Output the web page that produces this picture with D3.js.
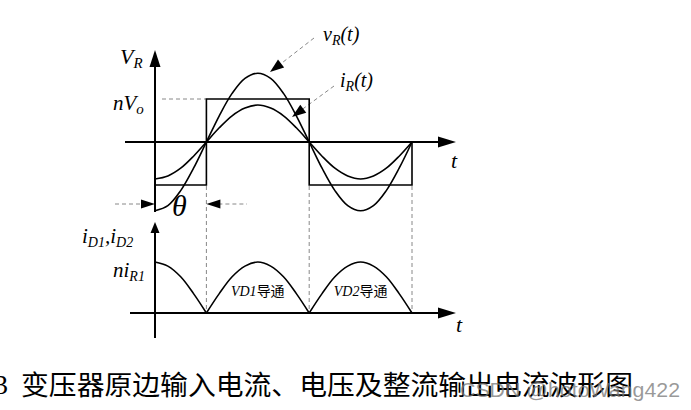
<!DOCTYPE html>
<html>
<head>
<meta charset="utf-8">
<script src="https://cdn.jsdelivr.net/npm/d3@7"></script>
<style>
  body { margin: 0; background: #fff; }
  svg { display: block; }
</style>
</head>
<body>
<div id="chart"></div>
<script>
// time in quarter periods (0 = vertical axis)
var tSteps = [0, 0.25, 0.5, 0.75, 1, 1.25, 1.5, 1.75, 2, 2.25, 2.5, 2.75, 3,
              3.25, 3.5, 3.75, 4, 4.25, 4.5, 4.75, 5];
// primary voltage vR(t), units of nVo
var vR = [-1.6, -1.48, -1.13, -0.61, 0, 0.61, 1.13, 1.48, 1.6, 1.48, 1.13, 0.61, 0,
          -0.61, -1.13, -1.48, -1.6, -1.48, -1.13, -0.61, 0];
// primary current iR(t)
var iR = [-0.86, -0.79, -0.61, -0.33, 0, 0.33, 0.61, 0.79, 0.86, 0.79, 0.61, 0.33, 0,
          -0.33, -0.61, -0.79, -0.86, -0.79, -0.61, -0.33, 0];
// rectified diode current iD1,iD2, units of niR1
var iD = [1, 0.92, 0.71, 0.38, 0, 0.38, 0.71, 0.92, 1, 0.92, 0.71, 0.38, 0,
          0.38, 0.71, 0.92, 1, 0.92, 0.71, 0.38, 0];
// square wave corners
var squareT = [0, 1, 3, 5];
var squareV = [-1, 1, -1, 0];
// diode conduction intervals
var conductT = [2, 4];
var conductLabels = ["VD1", "VD2"];
var conductSuffix = "导通";
var caption = "变压器原边输入电流、电压及整流输出电流波形图";
var watermark = "CSDN @hotoWang422";

var W = 691, H = 410;
var svg = d3.select("#chart").append("svg")
  .attr("width", W).attr("height", H);

var x = d3.scaleLinear().domain([0, 5]).range([155, 412]);
var yTop = d3.scaleLinear().domain([0, 1]).range([142, 99]);
var yBot = d3.scaleLinear().domain([0, 1]).range([313, 262]);

var serif = "'Liberation Serif', 'DejaVu Serif', serif";
var cjk = "'Noto Sans CJK SC', sans-serif";

// helpers
function arrow(g, tipX, tipY, angle, len, half) {
  // angle: direction the arrow points, radians
  var bx = tipX - len * Math.cos(angle), by = tipY - len * Math.sin(angle);
  var px = -Math.sin(angle) * half, py = Math.cos(angle) * half;
  g.append("path")
    .attr("d", "M" + tipX + "," + tipY + "L" + (bx + px) + "," + (by + py) +
      "L" + (bx - px) + "," + (by - py) + "Z")
    .attr("fill", "#000");
}

function label(g, px, py, parts, size, subSize) {
  var t = g.append("text")
    .attr("x", px).attr("y", py)
    .attr("font-family", serif)
    .attr("font-style", "italic")
    .attr("font-size", size);
  var sub = false;
  parts.forEach(function(p) {
    var ts = t.append("tspan").text(p.t);
    if (p.sub && !sub) { ts.attr("dy", 4).attr("font-size", subSize); sub = true; }
    else if (p.sub) { ts.attr("font-size", subSize); }
    else if (!p.sub && sub) { ts.attr("dy", -4); sub = false; }
    if (p.cjk) ts.attr("font-family", cjk).attr("font-style", "normal").attr("font-size", p.size);
  });
  return t;
}

var pts = tSteps.map(function(t, i) { return {t: t, v: vR[i], i: iR[i], d: iD[i]}; });

var g = svg.append("g");

// ---- dashed guides
var guides = g.append("g")
  .attr("stroke", "#888")
  .attr("stroke-width", 1)
  .attr("stroke-dasharray", "4,3")
  .attr("fill", "none");
[1, 3, 5].forEach(function(t) {
  guides.append("line")
    .attr("x1", x(t)).attr("x2", x(t))
    .attr("y1", yTop(-1) + 1).attr("y2", yBot(0));
});
guides.append("line")
  .attr("x1", 162).attr("x2", x(1))
  .attr("y1", yTop(1)).attr("y2", yTop(1));
// theta dimension
guides.append("line").attr("x1", 115).attr("x2", x(0) - 12)
  .attr("y1", 204).attr("y2", 204);
guides.append("line").attr("x1", x(1) + 12).attr("x2", 247)
  .attr("y1", 204).attr("y2", 204);
// leader lines
guides.append("line").attr("x1", 314).attr("y1", 38).attr("x2", 278).attr("y2", 66);
guides.append("line").attr("x1", 334).attr("y1", 86).attr("x2", 300).attr("y2", 111);

arrow(g, x(0), 204, 0, 14, 4.5);
arrow(g, x(1), 204, Math.PI, 14, 4.5);
arrow(g, 270, 72, Math.atan2(72 - 38, 270 - 314), 14, 5);
arrow(g, 292, 117, Math.atan2(117 - 86, 292 - 334), 14, 5);

// ---- axes
var axes = g.append("g").attr("stroke", "#000").attr("stroke-width", 2);
axes.append("line").attr("x1", x(0)).attr("x2", x(0)).attr("y1", 62).attr("y2", 212);
axes.append("line").attr("x1", 125).attr("x2", 442).attr("y1", yTop(0)).attr("y2", yTop(0));
axes.append("line").attr("x1", x(0)).attr("x2", x(0)).attr("y1", 230).attr("y2", 338);
axes.append("line").attr("x1", 130).attr("x2", 442).attr("y1", yBot(0)).attr("y2", yBot(0));
arrow(g, x(0), 50, -Math.PI / 2, 17, 5.5);
arrow(g, 456, yTop(0), 0, 18, 5.5);
arrow(g, x(0), 222, -Math.PI / 2, 11, 4.5);
arrow(g, 456, yBot(0), 0, 18, 5.5);

// ---- waveforms
var curves = g.append("g")
  .attr("fill", "none").attr("stroke", "#000").attr("stroke-width", 1.6);

var sq = squareT.map(function(t, i) { return {t: t, v: squareV[i]}; });
curves.append("path")
  .attr("d", d3.line().x(function(d) { return x(d.t); })
    .y(function(d) { return yTop(d.v); }).curve(d3.curveStepAfter)(sq));

curves.append("path")
  .attr("d", d3.line().x(function(d) { return x(d.t); })
    .y(function(d) { return yTop(d.v); }).curve(d3.curveCatmullRom)(pts));
curves.append("path")
  .attr("d", d3.line().x(function(d) { return x(d.t); })
    .y(function(d) { return yTop(d.i); }).curve(d3.curveCatmullRom)(pts));

// rectified humps, split at zeros
var segs = [], cur = [];
pts.forEach(function(p, i) {
  cur.push(p);
  if (p.d === 0 && i > 0) { segs.push(cur); cur = [p]; }
});
var humpLine = d3.line().x(function(d) { return x(d.t); })
  .y(function(d) { return yBot(d.d); }).curve(d3.curveCatmullRom);
segs.forEach(function(s) {
  curves.append("path").attr("d", humpLine(s));
});

// ---- labels
label(g, 120, 64, [{t: "V"}, {t: "R", sub: true}], 22, 15);
label(g, 113, 110, [{t: "nV"}, {t: "o", sub: true}], 21, 15);
label(g, 323, 41, [{t: "v"}, {t: "R", sub: true}, {t: "(t)"}], 20, 14);
label(g, 340, 87, [{t: "i"}, {t: "R", sub: true}, {t: "(t)"}], 20, 14);
label(g, 451, 168, [{t: "t"}], 22, 14);
label(g, 456, 332, [{t: "t"}], 22, 14);
label(g, 172, 216, [{t: "θ"}], 30, 14);
label(g, 82, 243, [{t: "i"}, {t: "D1", sub: true}, {t: ",i"}, {t: "D2", sub: true}], 21, 14);
label(g, 113, 277, [{t: "ni"}, {t: "R1", sub: true}], 21, 14);

conductT.forEach(function(t, k) {
  var lt = g.append("text")
    .attr("x", x(t)).attr("y", 296)
    .attr("text-anchor", "middle")
    .attr("font-family", serif).attr("font-style", "italic").attr("font-size", 14);
  lt.append("tspan").text(conductLabels[k]);
  lt.append("tspan").text(conductSuffix)
    .attr("font-family", cjk).attr("font-style", "normal").attr("font-size", 14);
});

// ---- caption
svg.append("text").attr("x", -6).attr("y", 394)
  .attr("font-family", serif).attr("font-size", 28).text("3");
svg.append("text").attr("x", 21).attr("y", 395)
  .attr("font-family", cjk).attr("font-size", 27)
  .attr("textLength", 612).attr("lengthAdjust", "spacingAndGlyphs")
  .text(caption);
svg.append("text").attr("x", 460).attr("y", 397)
  .attr("font-family", "'Liberation Sans', Arial, sans-serif").attr("font-size", 21)
  .attr("fill", "rgba(120,120,120,0.75)")
  .attr("textLength", 220).attr("lengthAdjust", "spacingAndGlyphs")
  .text(watermark);
</script>
</body>
</html>
